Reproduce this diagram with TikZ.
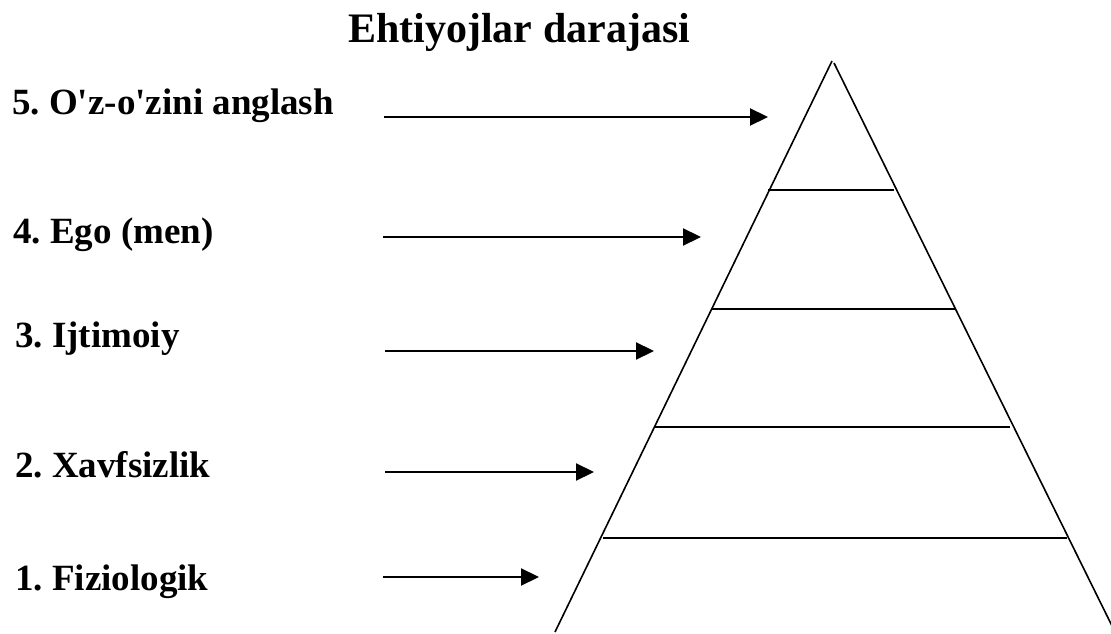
\documentclass[tikz,border=0pt]{standalone}
\usepackage{fontspec}
\setmainfont{Liberation Serif}
\usetikzlibrary{arrows.meta}

\begin{document}
\begin{tikzpicture}[x=1bp,y=-1bp,
  lbl/.style={anchor=base west,inner sep=0pt,font=\frenchspacing\bfseries\fontsize{37bp}{40bp}\selectfont},
  ttl/.style={lbl,font=\bfseries\fontsize{42bp}{46bp}\selectfont},
  a/.style={-{Triangle[length=18bp,width=17bp]},line width=2.2bp},
  s/.style={line width=1.6bp}]
\useasboundingbox (0,0) rectangle (1111,634);
\node[ttl] (title) at (348,43)  {Ehtiyojlar darajasi};
\node[lbl] (l5) at (12,115)  {5. O\textquotesingle z-o\textquotesingle zini anglash};
\node[lbl] (l4) at (13,244)  {4. Ego (men)};
\node[lbl] (l3) at (15,347)  {3. Ijtimoiy};
\node[lbl] (l2) at (15,477)  {2. Xavfsizlik};
\node[lbl] (l1) at (15,590)  {1. Fiziologik};
% arrow ends
\coordinate (s5) at (384,117); \coordinate (t5) at (768,117);
\coordinate (s4) at (383,237); \coordinate (t4) at (701,237);
\coordinate (s3) at (385,351); \coordinate (t3) at (654,351);
\coordinate (s2) at (385,472); \coordinate (t2) at (594,472);
\coordinate (s1) at (383,577); \coordinate (t1) at (539,577);
\draw[a] (s5) -- (t5);
\draw[a] (s4) -- (t4);
\draw[a] (s3) -- (t3);
\draw[a] (s2) -- (t2);
\draw[a] (s1) -- (t1);
% pyramid
\coordinate (topl) at (832,61);  \coordinate (botl) at (555,632);
\coordinate (topr) at (834,63);  \coordinate (botr) at (1116,634);
\draw[s] (topl) -- (botl);
\draw[s] (topr) -- (botr);
\draw[s] (768,190) -- (894,190);
\draw[s] (712,309) -- (956,309);
\draw[s] (655,427) -- (1010,427);
\draw[s] (603,538) -- (1067,538);
\end{tikzpicture}
\end{document}
